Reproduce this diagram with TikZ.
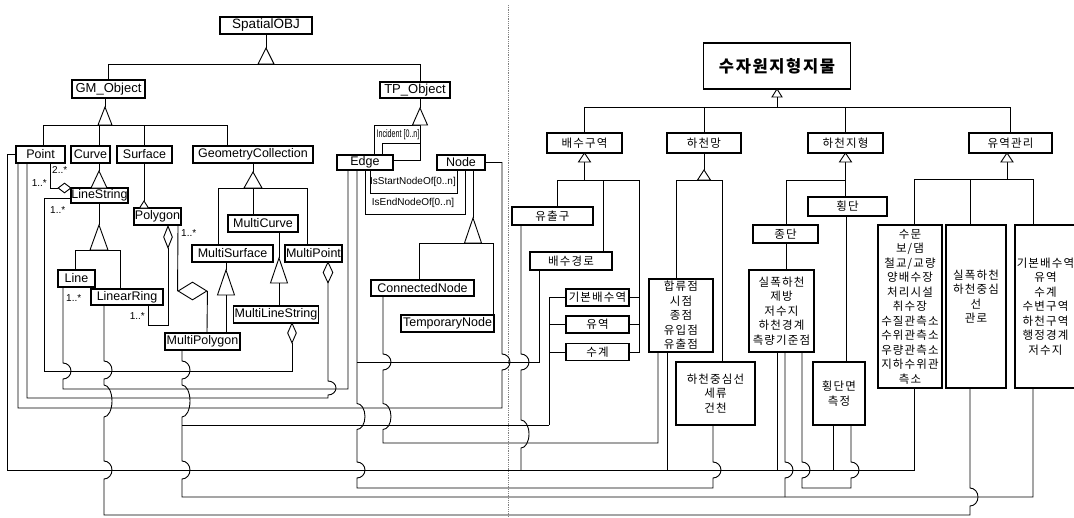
\documentclass[tikz,border=0pt]{standalone}
\usepackage{graphicx}
\usepackage{fontspec}
\setmainfont{Liberation Sans}
\newfontfamily\krfont[LetterSpace=10]{Noto Sans CJK KR}
\usetikzlibrary{shapes.geometric}
% hop of a vertical wire over a horizontal one (going down / going up)
\newcommand{\hopdn}[3]{-- (#1,{#2-#3}) arc[start angle=90,end angle=-90,x radius=8pt,y radius=#3pt]}
\newcommand{\hopup}[3]{-- (#1,{#2+#3}) arc[start angle=-90,end angle=90,x radius=8pt,y radius=#3pt]}
\newcommand{\gentri}[4]{\draw[wire,fill=white] (#1,#2) -- ({#1-#4},#3) -- ({#1+#4},#3) -- cycle;}

\begin{document}
\begin{tikzpicture}[x=1pt, y=-1pt,
    wire/.style={line width=0.9pt},
    wh/.style 2 args={minimum width=#1pt, minimum height=#2pt},
    cls/.style={draw, line width=1.4pt, fill=white, inner sep=0pt,
                font=\fontsize{12.5}{14}\selectfont},
    krbox/.style={draw, line width=1.4pt, fill=white, inner sep=0pt,
                align=center, font=\krfont\fontsize{11.5}{14.5}\selectfont},
    agg/.style={draw, diamond, line width=0.9pt, fill=white, inner sep=0pt},
    mult/.style={font=\fontsize{10}{12}\selectfont, inner sep=0pt},
    role/.style={font=\fontsize{10}{12}\selectfont, inner sep=0pt}]
  \useasboundingbox (0,0) rectangle (1074,517);

  % ---- ISO spatial schema (left)
  \node[cls, wh={92}{17}, font=\fontsize{13.5}{15}\selectfont] (sobj) at (266,25.5) {SpatialOBJ};
  \node[cls, wh={73}{18}, font=\fontsize{13}{15}\selectfont] (gmo) at (108.5,89) {GM\_Object};
  \node[cls, wh={70}{16}, font=\fontsize{13}{15}\selectfont] (tpo) at (415,90) {TP\_Object};
  \node[cls, wh={49}{17}] (pt) at (40.5,154.5) {Point};
  \node[cls, wh={39}{17}] (crv) at (90.5,154.5) {Curve};
  \node[cls, wh={55}{17}] (srf) at (144.5,154.5) {Surface};
  \node[cls, wh={120}{17}] (gcol) at (253,154.5) {GeometryCollection};
  \node[cls, wh={56}{15}] (edge) at (365,162.5) {Edge};
  \node[cls, wh={48}{15}] (nd) at (461,162.5) {Node};
  \node[cls, wh={57}{15}] (lstr) at (99.5,195.5) {LineString};
  \node[cls, wh={47}{17}] (poly) at (157.5,216.5) {Polygon};
  \node[cls, wh={70}{17}] (mcrv) at (263,223.5) {MultiCurve};
  \node[cls, wh={81}{17}] (msrf) at (232.5,253.5) {MultiSurface};
  \node[cls, wh={57}{17}] (mpt) at (313.5,253.5) {MultiPoint};
  \node[cls, wh={37}{17}] (ln) at (76.5,278.5) {Line};
  \node[cls, wh={72}{16}] (lring) at (127,297) {LinearRing};
  \node[cls, wh={85}{17}] (mls) at (276,314.5) {MultiLineString};
  \node[cls, wh={75}{17}] (mpoly) at (202.5,341.5) {MultiPolygon};
  \node[cls, wh={103}{16}] (cnode) at (422.5,288) {ConnectedNode};
  \node[cls, wh={93}{17}] (tnode) at (447.5,323.5) {TemporaryNode};

  % generalisations
  \draw[wire] (sobj.south) -- (266,48);
  \gentri{266}{48}{64}{8}
  \draw[wire] (gmo.north -| 108,0) |- (420,64) -- (tpo.north -| 420,0);
  \draw[wire] (gmo.south -| 105,0) -- (105,107);
  \gentri{105}{107}{125}{7}
  \draw[wire] (pt.north -| 43,0) |- (227,125) -- (gcol.north -| 227,0);
  \draw[wire] (99,125) -- (crv.north -| 99,0);
  \draw[wire] (144,125) -- (srf.north -| 144,0);
  \draw[wire] (tpo.south -| 420,0) -- (420,108);
  \draw[wire] (edge.north -| 374,0) |- (420,125) -- (420,160) -- (edge.east |- 0,160);
  \gentri{420}{108}{125}{7.5}
  \draw[wire] (crv.south -| 99,0) -- (99,171);
  \gentri{99}{171}{188}{8}
  \draw[wire] (srf.south -| 144,0) -- (144,201);
  \gentri{144}{201}{208}{4.5}
  \draw[wire] (gcol.south -| 253,0) -- (253,172);
  \gentri{253}{172}{188}{9}
  \draw[wire] (msrf.north -| 218,0) |- (307,188) -- (mpt.north -| 307,0);
  \draw[wire] (253,188) -- (mcrv.north -| 253,0);
  \draw[wire] (lstr.south -| 99,0) -- (99,225);
  \gentri{99}{225}{250}{9}
  \draw[wire] (ln.north -| 75,0) |- (120,250) -- (lring.north -| 120,0);
  \draw[wire] (msrf.south -| 226,0) -- (226,270);
  \gentri{226}{270}{295}{8.5}
  \draw[wire] (226,295) -- (mpoly.north -| 226,0);
  \draw[wire] (mcrv.south -| 279,0) -- (279,258);
  \gentri{279}{258}{283}{8.5}
  \draw[wire] (279,283) -- (mls.north -| 279,0);
  \draw[wire] (nd.south -| 473,0) -- (473,218);
  \gentri{473}{218}{243}{8.5}
  \draw[wire] (cnode.north -| 419,0) |- (493,243) -- (tnode.north -| 493,0);

  % aggregations
  \node[agg, wh={13}{10}] (lsd) at (64.5,188) {};
  \node[agg, wh={9}{22}] (pgd) at (168,237) {};
  \node[agg, wh={29}{18}] (mpgd) at (192.5,291) {};
  \node[agg, wh={9}{20}] (mlsd) at (292,333) {};
  \node[agg, wh={10}{21}] (mptd) at (328,272.5) {};
  \draw[wire] (pt.south -| 50,0) |- (lsd.west);
  \node[mult, anchor=west] at (52,170) {2..*};
  \node[mult, anchor=east] at (47,183) {1..*};
  \draw[wire] (pgd.south) |- (148,325) -- (lring.south -| 148,0);
  \node[mult, anchor=east] at (145,316) {1..*};
  \draw[wire] (poly.south -| 178,0) -- (mpgd.west);
  \draw[wire] (mpgd.east) -- (mpoly.north -| 207,0);
  \node[mult, anchor=west] at (181,233) {1..*};

  % topology associations
  \draw[wire] (edge.north -| 382,0) |- (420,143);
  \node[role, font=\fontsize{11}{12}\selectfont] at (398,135) {\scalebox{0.65}[1]{Incident [0..n]}};
  \draw[wire] (edge.south -| 370,0) |- (457,193) -- (nd.south -| 457,0);
  \node[role] at (413,182) {IsStartNodeOf[0..n]};
  \draw[wire] (edge.south -| 365,0) |- (465,214) -- (nd.south -| 465,0);
  \node[role] at (413,203) {IsEndNodeOf[0..n]};

  % ---- water resources features (right)
  \node[krbox, wh={147}{46}, font=\krfont\fontsize{16.5}{18}\selectfont\bfseries] (wr) at (777,66) {수자원지형지물};
  \node[krbox, wh={75}{20}] (drain) at (584.5,143) {배수구역};
  \node[krbox, wh={74}{20}] (rnet) at (704,143) {하천망};
  \node[krbox, wh={75}{20}] (rtopo) at (845.5,143) {하천지형};
  \node[krbox, wh={83}{20}] (bmgmt) at (1010.5,143) {유역관리};
  \node[krbox, wh={81}{18}] (outlet) at (552.5,216) {유출구};
  \node[krbox, wh={82}{18}] (dpath) at (571,261) {배수경로};
  \node[krbox, wh={63}{17}] (basin) at (597.5,297.5) {기본배수역};
  \node[krbox, wh={63}{17}] (wshed) at (597.5,324.5) {유역};
  \node[krbox, wh={63}{17}] (wsys) at (597.5,352) {수계};
  \node[krbox, wh={64}{73}] (junc) at (681,315.5) {합류점\\시점\\종점\\유입점\\유출점};
  \node[krbox, wh={79}{63}] (rcl) at (715.5,393.5) {하천중심선\\세류\\건천};
  \node[krbox, wh={79}{19}] (xsect) at (847.5,206.5) {횡단};
  \node[krbox, wh={65}{18}] (lsect) at (785.5,234) {종단};
  \node[krbox, wh={65}{82}] (rwide) at (781.5,311) {실폭하천\\제방\\저수지\\하천경계\\측량기준점};
  \node[krbox, wh={52}{63}] (xsm) at (839,393.5) {횡단면\\측정};
  \node[krbox, wh={64}{163}] (fac) at (910,306.5) {수문\\보/댐\\철교/교량\\양배수장\\처리시설\\취수장\\수질관측소\\수위관측소\\우량관측소\\지하수위관\\측소};
  \node[krbox, wh={60}{163}] (rline) at (976,306.5) {실폭하천\\하천중심\\선\\관로\\[6pt]};
  \node[krbox, wh={61}{163}] (areas) at (1045.5,306.5) {기본배수역\\유역\\수계\\수변구역\\하천구역\\행정경계\\저수지};

  \draw[wire] (wr.south) -- (777,97);
  \gentri{777}{89}{97}{5}
  \draw[wire] (777,97) -- (777,107);
  \draw[wire] (drain.north -| 584.5,0) |- (1010.5,107) -- (bmgmt.north);
  \draw[wire] (704,107) -- (rnet.north);
  \draw[wire] (845.5,107) -- (rtopo.north);
  \draw[wire] (584.5,162) -- (584.5,180);
  \gentri{584.5}{153}{162}{6}
  \draw[wire] (outlet.north -| 557,0) |- (639,180) |- (wsys.east);
  \draw[wire] (603,180) -- (dpath.north -| 603,0);
  \draw[wire] (basin.east) -- (639,297.5);
  \draw[wire] (wshed.east) -- (639,324.5);
  \draw[wire] (rnet.south) -- (704,170);
  \gentri{704}{170}{180}{6.5}
  \draw[wire] (junc.north -| 676,0) |- (722,180) -- (rcl.north -| 722,0);
  \draw[wire] (845.5,162) -- (845.5,180);
  \gentri{845.5}{153}{162}{6}
  \draw[wire] (lsect.north -| 786,0) |- (845.5,180) -- (xsect.north -| 845.5,0);
  \draw[wire] (lsect.south -| 786,0) -- (rwide.north -| 786,0);
  \draw[wire] (xsect.south -| 846,0) -- (xsm.north -| 846,0);
  \draw[wire] (1007,162) -- (1007,179);
  \gentri{1007}{153}{162}{6}
  \draw[wire] (fac.north -| 914,0) |- (1033,179) -- (areas.north -| 1033,0);
  \draw[wire] (970,179) -- (rline.north -| 970,0);
  \draw[wire] (basin.west) -| (549,425);
  \draw[wire] (wshed.west) -- (549,324.5);
  \draw[wire] (wsys.west) -- (549,352);

  % ---- correspondences (bottom wiring)
  \draw[wire] (pt.west) -- (7,154.5) -- (7,470) -- (914,470) -- (fac.south -| 914,0);
  \draw[wire] (outlet.south -| 521,0) \hopdn{521}{362}{8} \hopdn{521}{434}{14} -- (521,470);
  \draw[wire] (junc.south -| 667,0) -- (667,470);
  \draw[wire] (rwide.south -| 777,0) -- (777,470);
  \draw[wire] (xsm.south -| 833,0) -- (833,470);
  \draw[wire] (pt.south -| 18,0) -- (18,408) -- (502,408) \hopup{502}{362}{8} |- (nd.east);
  \draw[wire] (pt.south -| 27,0) -- (27,398) -- (328,398) \hopup{328}{388}{7} -- (mptd.south);
  \draw[wire] (lstr.west |- 0,198) -- (44,198) -- (44,371) -- (292,371) -- (mlsd.south);
  \node[mult, anchor=west] at (50,210) {1..*};
  \draw[wire] (ln.south -| 63,0) \hopdn{63}{371}{8} -- (63,389) -- (348,389) -- (edge.south -| 348,0);
  \node[mult, anchor=west] at (66,298) {1..*};
  \draw[wire] (lring.south -| 104,0) \hopdn{104}{370}{9} \hopdn{104}{401}{16} \hopdn{104}{470}{9}
    -- (104,515) -- (970,515) \hopup{970}{497}{9} -- (rline.south -| 970,0);
  \draw[wire] (mpoly.south -| 182,0) \hopdn{182}{370}{9} \hopdn{182}{401}{16} -- (182,425)
    \hopdn{182}{470}{9} -- (182,497) -- (1033,497) -- (areas.south -| 1033,0);
  \draw[wire] (182,425) -- (549,425);
  \draw[wire] (cnode.south -| 383,0) \hopdn{383}{362}{8} \hopdn{383}{416.5}{13} -- (383,443)
    -- (658,443) -- (junc.south -| 658,0);
  \draw[wire] (edge.south -| 357,0) \hopdn{357}{416.5}{13} \hopdn{357}{470}{8} -- (357,488)
    -- (713,488) \hopup{713}{470}{8} -- (rcl.south -| 713,0);
  \draw[wire] (357,362) -- (539,362) -- (dpath.south -| 539,0);
  \draw[wire] (rwide.south -| 802,0) \hopdn{802}{470}{8} -- (802,488) -- (851,488)
    \hopup{851}{470}{8} -- (xsm.south -| 851,0);
  \draw[wire] (rwide.south -| 785,0) \hopdn{785}{470}{8} -- (785,497);

  % separator
  \draw[densely dotted, gray, line width=0.8pt] (508,5) -- (508,517);
\end{tikzpicture}
\end{document}
